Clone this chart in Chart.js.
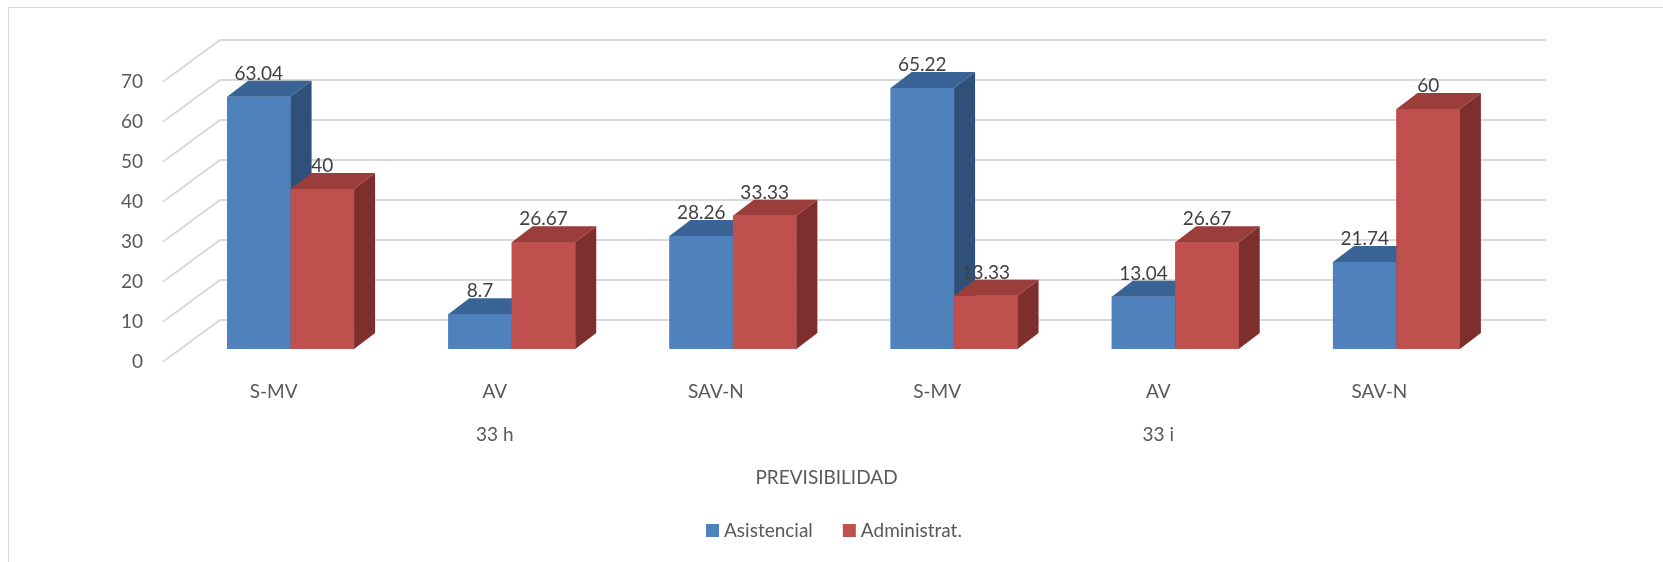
<!DOCTYPE html>
<html>
<head>
<meta charset="utf-8">
<script src="https://cdn.jsdelivr.net/npm/chart.js@4.4.1/dist/chart.umd.min.js"></script>
<style>
  body { margin: 0; background: #fff; }
  canvas { display: block; }
</style>
</head>
<body>
<canvas id="prevChart" width="1663" height="562"></canvas>
<script>
// data
const categories = ['S-MV', 'AV', 'SAV-N', 'S-MV', 'AV', 'SAV-N'];
const groupLabels = ['33 h', '33 i'];
const asistencial = [63.04, 8.7, 28.26, 65.22, 13.04, 21.74];
const administrat = [40, 26.67, 33.33, 13.33, 26.67, 60];
const axisTitle = 'PREVISIBILIDAD';

const FONT = 'Lato, "Open Sans", sans-serif';

// colours for front / top / side of each series
const shades = [
    { front: '#4f81bd', top: '#3b6496', side: '#2f5079' },
    { front: '#c0504d', top: '#9b3d3b', side: '#7e2f2d' }
];

// wall depth (front edge -> back wall) and bar depth, in pixels
const wall = { front: { dx: -17, dy: 12.7 }, back: { dx: 40, dy: -29 } };
const bar = { dx: 21, dy: 16 };

const threeD = {
    id: 'threeD',
    beforeDatasetsDraw(chart) {
        const { ctx, scales: { x, y } } = chart;
        ctx.save();

        // chart border
        ctx.strokeStyle = '#d9d9d9';
        ctx.lineWidth = 1;
        ctx.beginPath();
        ctx.moveTo(8.5, 562);
        ctx.lineTo(8.5, 7.5);
        ctx.lineTo(1663, 7.5);
        ctx.stroke();

        const left = x.left, right = x.right;
        ctx.strokeStyle = '#d9d9d9';
        ctx.lineWidth = 2;
        ctx.font = '19px ' + FONT;
        ctx.fillStyle = '#595959';
        ctx.textAlign = 'right';
        ctx.textBaseline = 'middle';
        y.ticks.forEach(t => {
            const py = y.getPixelForValue(t.value);
            const fx = left + wall.front.dx, fy = py + wall.front.dy;
            const bx = left + wall.back.dx, by = py + wall.back.dy;
            ctx.beginPath();
            ctx.moveTo(fx, fy);
            ctx.lineTo(bx, by);
            ctx.lineTo(right + wall.back.dx, by);
            ctx.stroke();
            ctx.fillText(t.label, fx - 20, fy);
        });

        // category labels on the front edge of the floor
        const base = y.getPixelForValue(0) + wall.front.dy;
        ctx.textAlign = 'center';
        categories.forEach((c, i) => {
            ctx.fillText(c, x.getPixelForValue(i) + wall.front.dx, base + 30);
        });
        groupLabels.forEach((g, i) => {
            const mid = x.getPixelForValue(i * 3 + 1) + wall.front.dx;
            ctx.fillText(g, mid, base + 73);
        });
        ctx.fillText(axisTitle, (left + right) / 2 + wall.front.dx, base + 116);

        // legend
        const ds = chart.data.datasets;
        let lx = 706;
        const ly = 530.5;
        ctx.textAlign = 'left';
        ds.forEach((d, i) => {
            ctx.fillStyle = d.backgroundColor;
            ctx.fillRect(lx, ly - 6.5, 13, 13);
            ctx.fillStyle = '#595959';
            ctx.fillText(d.label, lx + 18, ly);
            lx += 18 + ctx.measureText(d.label).width + 30;
        });
        ctx.restore();
    },
    afterDatasetsDraw(chart) {
        const { ctx } = chart;
        const metas = chart.data.datasets.map((d, i) => chart.getDatasetMeta(i));
        ctx.save();
        categories.forEach((c, idx) => {
            metas.forEach((meta, si) => {
                const el = meta.data[idx];
                const { x, y, base, width } = el.getProps(['x', 'y', 'base', 'width'], true);
                const l = x - width / 2, r = x + width / 2;
                const s = shades[si];
                ctx.fillStyle = s.front;
                ctx.fillRect(l, y, width, base - y);
                // top
                ctx.fillStyle = s.top;
                ctx.beginPath();
                ctx.moveTo(l, y);
                ctx.lineTo(r, y);
                ctx.lineTo(r + bar.dx, y - bar.dy);
                ctx.lineTo(l + bar.dx, y - bar.dy);
                ctx.closePath();
                ctx.fill();
                // side
                ctx.fillStyle = s.side;
                ctx.beginPath();
                ctx.moveTo(r, y);
                ctx.lineTo(r + bar.dx, y - bar.dy);
                ctx.lineTo(r + bar.dx, base - bar.dy);
                ctx.lineTo(r, base);
                ctx.closePath();
                ctx.fill();
            });
        });
        // value labels
        ctx.font = '19px ' + FONT;
        ctx.fillStyle = '#404040';
        ctx.textAlign = 'center';
        ctx.textBaseline = 'middle';
        metas.forEach((meta, si) => {
            meta.data.forEach((el, i) => {
                const v = chart.data.datasets[si].data[i];
                ctx.fillText(String(v), el.x, el.y - 23);
            });
        });
        ctx.restore();
    }
};

new Chart(document.getElementById('prevChart'), {
    type: 'bar',
    data: {
        labels: categories,
        datasets: [{
            label: 'Asistencial',
            data: asistencial,
            backgroundColor: shades[0].front
        }, {
            label: 'Administrat.',
            data: administrat,
            backgroundColor: shades[1].front
        }]
    },
    options: {
        responsive: false,
        animation: false,
        layout: { padding: { left: 180, right: 156, top: 69, bottom: 213 } },
        categoryPercentage: 0.574,
        barPercentage: 1,
        plugins: { legend: { display: false }, tooltip: { enabled: false } },
        scales: {
            x: { display: false },
            y: { display: false, min: 0, max: 70, ticks: { stepSize: 10 } }
        }
    },
    plugins: [threeD]
});
</script>
</body>
</html>
